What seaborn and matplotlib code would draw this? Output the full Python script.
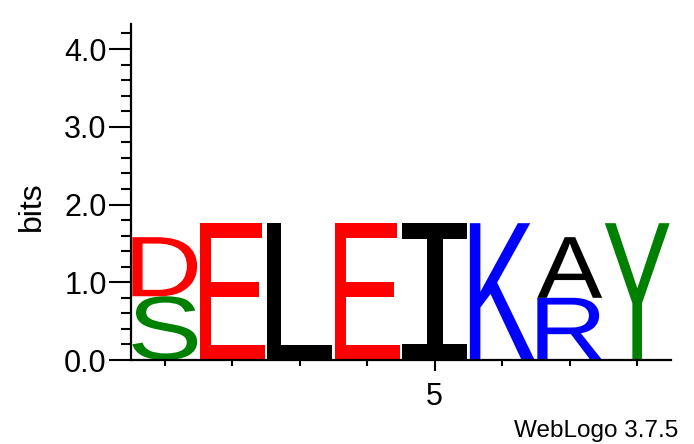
import matplotlib
matplotlib.use("Agg")
import matplotlib.pyplot as plt
import seaborn as sns
import numpy as np
from matplotlib.textpath import TextPath
from matplotlib.patches import PathPatch
from matplotlib.font_manager import FontProperties
from matplotlib.transforms import Affine2D
from matplotlib.ticker import MultipleLocator, FixedLocator

# %%
positions = [1, 2, 3, 4, 5, 6, 7, 8]
# letters of each stack, bottom to top
stack_letters = [["S", "D"], ["E"], ["L"], ["E"], ["I"], ["K"], ["R", "A"], ["Y"]]
# height (bits) of each letter, same order
stack_heights = [[0.82, 0.76], [1.76], [1.76], [1.76], [1.76], [1.76], [0.80, 0.78], [1.76]]
letter_colors = {"S": "#008000", "Y": "#008000", "D": "#ff0000", "E": "#ff0000",
                 "L": "#000000", "I": "#000000", "A": "#000000",
                 "K": "#0000ff", "R": "#0000ff"}
y_max = np.log2(20)
x_labeled = [5]

sns.set_style("ticks")
plt.rcParams["font.family"] = ["Liberation Sans", "DejaVu Sans"]
for key in ["text.color", "axes.labelcolor", "xtick.color", "ytick.color", "axes.edgecolor"]:
    plt.rcParams[key] = "black"

fig = plt.figure(figsize=(6.94, 4.44), dpi=100)
ax = fig.add_axes([131 / 694, 1 - 360 / 444, 540 / 694, 336 / 444])


def draw_letter(ax, letter, x, y0, height, color, width=0.96):
    fam = "DejaVu Sans Mono" if letter == "I" else "Liberation Sans"
    path = TextPath((0, 0), letter, size=1, prop=FontProperties(family=fam))
    ext = path.get_extents()
    tr = (Affine2D()
          .translate(-ext.x0, -ext.y0)
          .scale(width / ext.width, height / ext.height)
          .translate(x - width / 2, y0))
    patch = PathPatch(tr.transform_path(path), facecolor=color, edgecolor="none", lw=0)
    ax.add_patch(patch)


for pos, lets, hts in zip(positions, stack_letters, stack_heights):
    bottom = 0.0
    for let, h in zip(lets, hts):
        draw_letter(ax, let, pos, bottom, h, letter_colors[let])
        bottom += h

ax.set_xlim(0.5, 8.5)
ax.set_ylim(0, y_max)

# y axis
ax.yaxis.set_major_locator(FixedLocator([0, 1, 2, 3, 4]))
ax.set_yticklabels(["0.0", "1.0", "2.0", "3.0", "4.0"])
ax.yaxis.set_minor_locator(MultipleLocator(0.2))
ax.tick_params(axis="y", which="major", length=16, width=1.5, pad=1.5, labelsize=22)
ax.tick_params(axis="y", which="minor", length=7, width=1.5)

# x axis
ax.xaxis.set_major_locator(FixedLocator(x_labeled))
ax.set_xticklabels([str(v) for v in x_labeled])
ax.xaxis.set_minor_locator(FixedLocator([p for p in positions if p not in x_labeled]))
ax.tick_params(axis="x", which="major", length=8, width=1.5, pad=8, labelsize=22)
ax.tick_params(axis="x", which="minor", length=4.5, width=1.5)

for s in ["left", "bottom"]:
    ax.spines[s].set_linewidth(1.6)
sns.despine(ax=ax)

ax.set_ylabel("bits", fontsize=23)
ax.yaxis.set_label_coords(-0.156, 0.458)

fig.text(678 / 694, 1 - 437 / 444, "WebLogo 3.7.5", fontsize=17.5, ha="right", va="baseline")

fig.savefig("out.png", dpi=100)
